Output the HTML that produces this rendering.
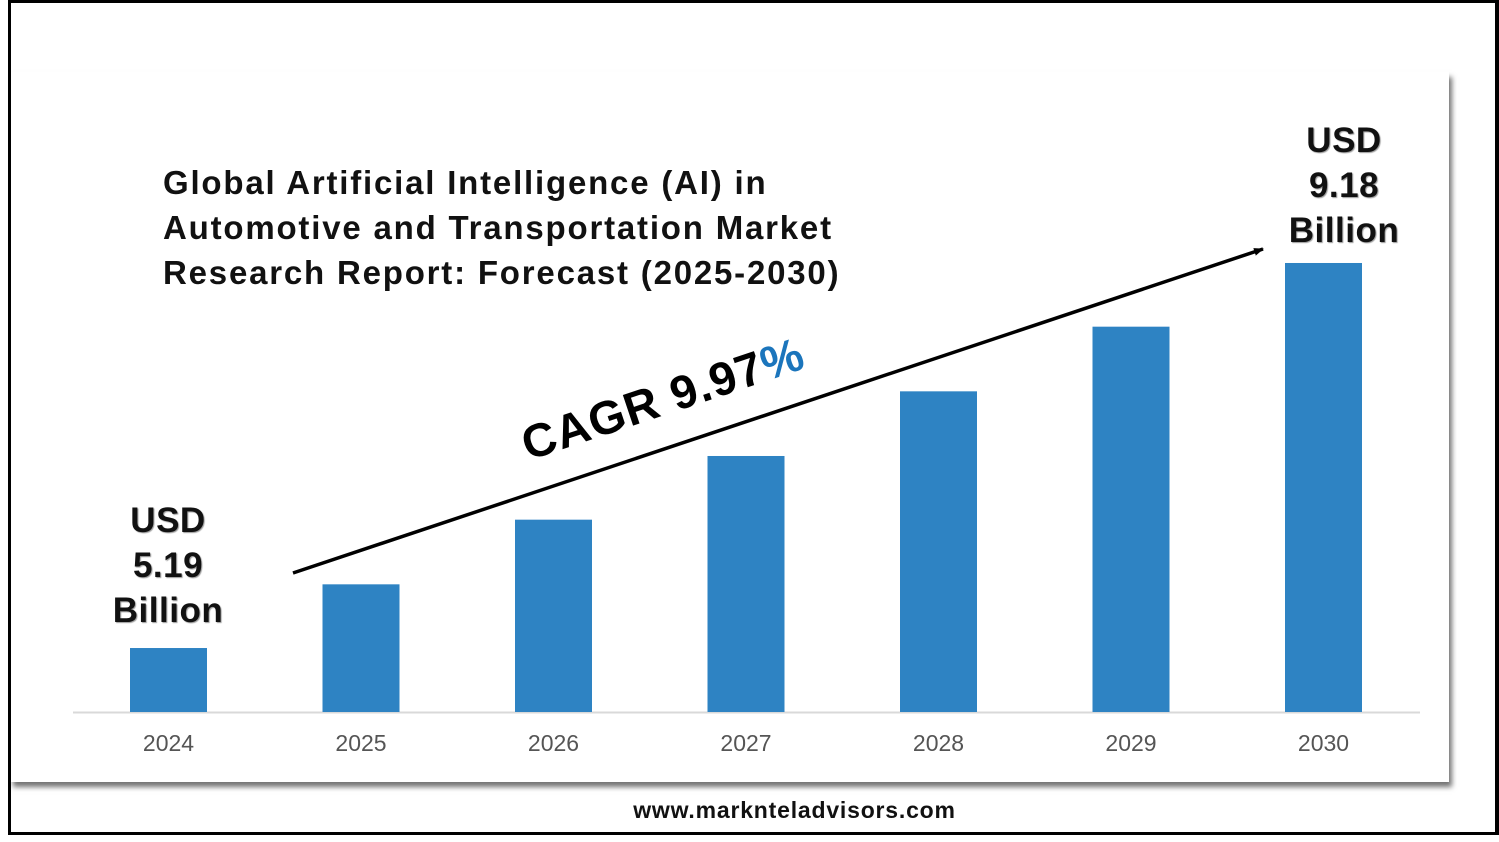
<!DOCTYPE html>
<html><head><meta charset="utf-8"><style>
html,body{margin:0;padding:0;background:#fff;}
body{width:1499px;height:842px;position:relative;overflow:hidden;font-family:"Liberation Sans","DejaVu Sans",sans-serif;}
.frame{position:absolute;left:8px;top:0;width:1484px;height:829px;border:3px solid #000;border-right-width:4px;z-index:5;}
.card{position:absolute;left:10px;top:72px;width:1439px;height:710px;background:#fff;box-shadow:3px 5px 5px rgba(0,0,0,0.55);}
.title{position:absolute;left:163px;top:160px;font-size:33px;font-weight:bold;line-height:45px;color:#111;margin:0;letter-spacing:1.8px;}
.site{position:absolute;left:45px;width:1499px;top:797px;text-align:center;font-size:23px;font-weight:bold;color:#111;letter-spacing:0.8px;}
.lab{position:absolute;text-align:center;font-weight:bold;font-size:35px;line-height:45px;color:#111;text-shadow:1px 1px 1px #999;letter-spacing:0.5px;}
</style></head><body>
<div class="frame"></div>
<div class="card"></div>
<svg id="chart" width="1499" height="842" style="position:absolute;left:0;top:0">
<defs><marker id="ah" markerWidth="10" markerHeight="8" refX="9" refY="4" orient="auto" markerUnits="userSpaceOnUse"><path d="M0,0 L10,4 L0,8 z" fill="#000"/></marker></defs>
<line x1="73" y1="712.5" x2="1420" y2="712.5" stroke="#d9d9d9" stroke-width="2"/>
<g id="bars"></g><g id="ticks"></g>
<line x1="293" y1="573" x2="1263" y2="249" stroke="#000" stroke-width="3.5" marker-end="url(#ah)"/>
<text transform="translate(668,414) rotate(-18.5)" text-anchor="middle" font-size="47" font-family="Liberation Sans, sans-serif" font-weight="bold" letter-spacing="1" fill="#000">CAGR 9.97<tspan fill="#1b75bc">%</tspan></text>
</svg>
<div class="title">Global Artificial Intelligence (AI) in<br>Automotive and Transportation Market<br>Research Report: Forecast (2025-2030)</div>
<div class="lab" style="left:88px;top:498px;width:160px">USD<br>5.19<br>Billion</div>
<div class="lab" style="left:1264px;top:118px;width:160px">USD<br>9.18<br>Billion</div>
<div class="site">www.marknteladvisors.com</div>
<script>
const categories=["2024","2025","2026","2027","2028","2029","2030"];
const values=[5.19,5.85,6.52,7.18,7.85,8.52,9.18];
const yMin=4.527, baseY=712, pxPerUnit=96.5;
function y(v){return baseY-(v-yMin)*pxPerUnit;}
function xc(i){return 168.5+i*192.5;}
const ns="http://www.w3.org/2000/svg";
const bars=document.getElementById('bars'),ticks=document.getElementById('ticks');
categories.forEach((c,i)=>{
 const r=document.createElementNS(ns,'rect');
 r.setAttribute('x',xc(i)-38.5);r.setAttribute('width',77);
 r.setAttribute('y',y(values[i]));r.setAttribute('height',baseY-y(values[i]));
 r.setAttribute('fill','#2e83c3');
 
 
 bars.appendChild(r);
 const t=document.createElementNS(ns,'text');
 t.setAttribute('x',xc(i));t.setAttribute('y',751);t.setAttribute('text-anchor','middle');
 t.setAttribute('font-size','23');t.setAttribute('fill','#555');
 t.setAttribute('font-family','Liberation Sans, sans-serif');
 t.textContent=c;
 
 
 ticks.appendChild(t);
});
</script>
</body></html>
